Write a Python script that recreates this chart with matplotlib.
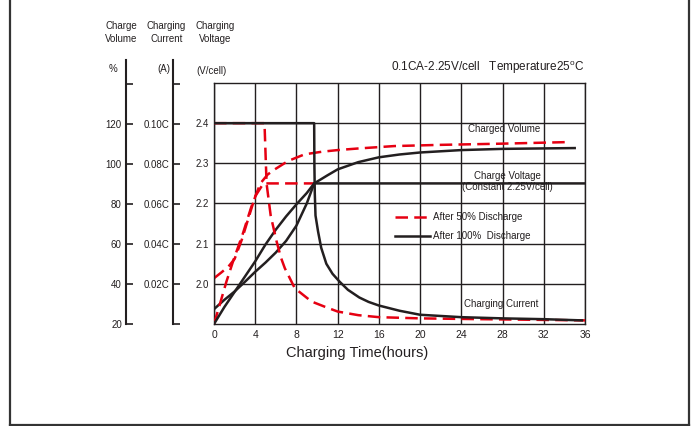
import matplotlib
matplotlib.use("Agg")
import matplotlib.pyplot as plt
from matplotlib.lines import Line2D

plt.rcParams['font.family'] = ['Liberation Sans', 'DejaVu Sans']

W, H = 694, 426
RED = '#e60012'
BLK = '#231f20'

# ---------------- data ----------------
x_ticks = [0, 4, 8, 12, 16, 20, 24, 28, 32, 36]
v_ticks = [2.0, 2.1, 2.2, 2.3, 2.4]
v_tick_labels = ['2.0', '2.1', '2.2', '2.3', '2.4']
pct_ticks = [20, 40, 60, 80, 100, 120, 140]
pct_tick_labels = ['20', '40', '60', '80', '100', '120', '']
cur_ticks = [0.0, 0.02, 0.04, 0.06, 0.08, 0.10, 0.12]
cur_tick_labels = ['', '0.02C', '0.04C', '0.06C', '0.08C', '0.10C', '']

# After 50% discharge (red dashed)
r_volt_t = [0, 0.7, 1.4, 2.0, 2.7, 3.3, 4.0, 4.8, 9.7]
r_volt_v = [2.014, 2.028, 2.043, 2.062, 2.11, 2.16, 2.218, 2.25, 2.25]
r_vol_t = [0, 0.6, 1.2, 1.9, 2.8, 3.6, 4.5, 5.2, 5.9, 7.2, 8.8, 10.5, 12, 14, 17.5, 22, 28, 34.5]
r_vol_p = [20, 30.4, 41, 52, 65, 78, 90, 94.4, 97, 101.2, 104.5, 105.8, 106.6, 107.4, 108.6, 109.2, 109.8, 110.6]
r_cur_t = [0, 4.9, 5.0, 5.1, 5.5, 6.07, 6.5, 6.87, 7.84, 9.46, 10.75, 12, 14, 16, 20, 26, 36]
r_cur_c = [0.1, 0.1, 0.085, 0.07, 0.054, 0.0412, 0.033, 0.0278, 0.0178, 0.0112, 0.0086,
           0.0062, 0.0044, 0.0034, 0.0028, 0.0024, 0.0018]

# After 100% discharge (black solid)
b_volt_t = [0, 1, 2, 3, 4, 5, 6, 7, 8, 9, 9.72, 36]
b_volt_v = [1.937, 1.96, 1.981, 2.005, 2.03, 2.053, 2.078, 2.107, 2.145, 2.2, 2.25, 2.25]
b_vol_t = [0, 1, 2, 3, 4, 5, 6, 7, 8, 9, 9.72, 11, 12, 14, 16, 18, 20, 24, 28, 35]
b_vol_p = [20, 28.4, 36, 43.6, 51.2, 59.6, 67, 73.6, 79.6, 85.2, 90, 94, 97, 100.6, 103,
           104.4, 105.4, 106.6, 107.2, 107.6]
b_cur_t = [0, 9.72, 9.74, 9.78, 9.85, 10.1, 10.4, 10.9, 11.5, 12.2, 13, 14.1, 15, 16, 18,
           20, 24, 28, 32, 35.7]
b_cur_c = [0.1, 0.1, 0.08, 0.065, 0.054, 0.046, 0.038, 0.030, 0.025, 0.021, 0.017, 0.0132,
           0.011, 0.0092, 0.0066, 0.0046, 0.0034, 0.0028, 0.0024, 0.0018]

# ---------------- figure ----------------
fig = plt.figure(figsize=(W / 100, H / 100), dpi=100)

def fx(px):
    return px / W

def fy(py):
    return 1 - py / H

L, R, T, B = 214, 585, 83, 324
ax = fig.add_axes([fx(L), fy(B), fx(R) - fx(L), fy(T) - fy(B)])
ax.set_xlim(0, 36)
ax.set_ylim(1.9, 2.5)
ax.set_xticks(x_ticks)
ax.set_xticklabels([str(t) for t in x_ticks], fontsize=7.5, color=BLK)
ax.set_yticks(v_ticks)
ax.set_yticklabels(v_tick_labels, fontsize=7, color=BLK)
ax.tick_params(axis='both', length=0)
ax.tick_params(axis='y', pad=4)
ax.tick_params(axis='x', pad=4)
ax.grid(True, color=BLK, linewidth=1.0)
for s in ax.spines.values():
    s.set_color(BLK)
    s.set_linewidth(1.0)
ax.set_axisbelow(True)

ax_vol = ax.twinx()
ax_vol.set_ylim(20, 140)
ax_cur = ax.twinx()
ax_cur.set_ylim(0, 0.12)
for a in (ax_vol, ax_cur):
    a.axis('off')

dash = dict(color=RED, linewidth=1.8, linestyle=(0, (5, 2.5)))
solid = dict(color=BLK, linewidth=1.8)

ax_cur.plot(r_cur_t, r_cur_c, **dash)
ax.plot(r_volt_t, r_volt_v, **dash)
ax_vol.plot(r_vol_t, r_vol_p, **dash)
ax_cur.plot(b_cur_t, b_cur_c, **solid)
ax.plot(b_volt_t, b_volt_v, **solid)
ax_vol.plot(b_vol_t, b_vol_p, **solid)

# annotations
ax.text(28.2, 2.385, 'Charged Volume', fontsize=7, color=BLK, ha='center', va='center')
ax.text(28.5, 2.2675, 'Charge Voltage', fontsize=7, color=BLK, ha='center', va='center')
ax.text(28.5, 2.24, '(Constant 2.25V/cell)', fontsize=7, color=BLK, ha='center', va='center')
ax.text(27.9, 1.95, 'Charging Current', fontsize=7, color=BLK, ha='center', va='center')

handles = [Line2D([], [], **dash), Line2D([], [], **solid)]
leg = ax.legend(handles, ['After 50% Discharge', 'After 100%  Discharge'],
                loc='upper left', bbox_to_anchor=((397 - L) / (R - L) - 0.005, 1 - (212 - T) / (B - T)),
                frameon=False, fontsize=7, handlelength=3.6, handletextpad=0.3,
                labelspacing=0.95, borderpad=0, borderaxespad=0)
for t in leg.get_texts():
    t.set_color(BLK)

ax.set_xlabel('Charging Time(hours)', fontsize=10.5, color=BLK)
ax.xaxis.set_label_coords((357.5 - L) / (R - L), -(353 - B) / (B - T), transform=ax.transAxes)
ax.xaxis.label.set_va('center')

# condition text
fig.text(fx(584), fy(68), '0.1CA-2.25V/cell   Temperature25$^{\\mathregular{o}}$C',
         fontsize=8.5, color=BLK, ha='right', va='center')

# ---------------- auxiliary scales on the left ----------------
TOPS = 60
def side_axis(px, ylim, ticks, labels, pad):
    a = fig.add_axes([fx(px), fy(B), 0.0001, fy(TOPS) - fy(B)])
    a.set_ylim(*ylim)
    a.set_xticks([])
    a.set_yticks(ticks)
    a.set_yticklabels(labels, fontsize=7, color=BLK)
    a.tick_params(axis='y', direction='in', length=5, width=1.2, color=BLK, pad=pad)
    for k in ('top', 'right', 'bottom'):
        a.spines[k].set_visible(False)
    a.spines['left'].set_linewidth(1.5)
    a.spines['left'].set_color(BLK)
    a.patch.set_visible(False)
    return a

side_axis(126, (20, 152), pct_ticks, pct_tick_labels, 3)
side_axis(172.5, (0, 0.132), cur_ticks, cur_tick_labels, 2.5)

# headers
hdr = dict(fontsize=7, color=BLK, ha='center', va='center', linespacing=1.3)
fig.text(fx(121.5), fy(32.5), 'Charge\nVolume', **hdr)
fig.text(fx(166.5), fy(32.5), 'Charging\nCurrent', **hdr)
fig.text(fx(215.5), fy(32.5), 'Charging\nVoltage', **hdr)
fig.text(fx(113), fy(69), '%', **hdr)
fig.text(fx(164), fy(69), '(A)', **hdr)
fig.text(fx(211.5), fy(71.5), '(V/cell)', **hdr)

# outer frame (open at top)
for xs, ys in (([9.5, 9.5], [0, 424.5]), ([688.5, 688.5], [0, 424.5]), ([9.5, 688.5], [424.5, 424.5])):
    fig.add_artist(Line2D([fx(v) for v in xs], [fy(v) for v in ys], color='#333333',
                          linewidth=1.6, transform=fig.transFigure))

fig.savefig('out.png', dpi=100)
